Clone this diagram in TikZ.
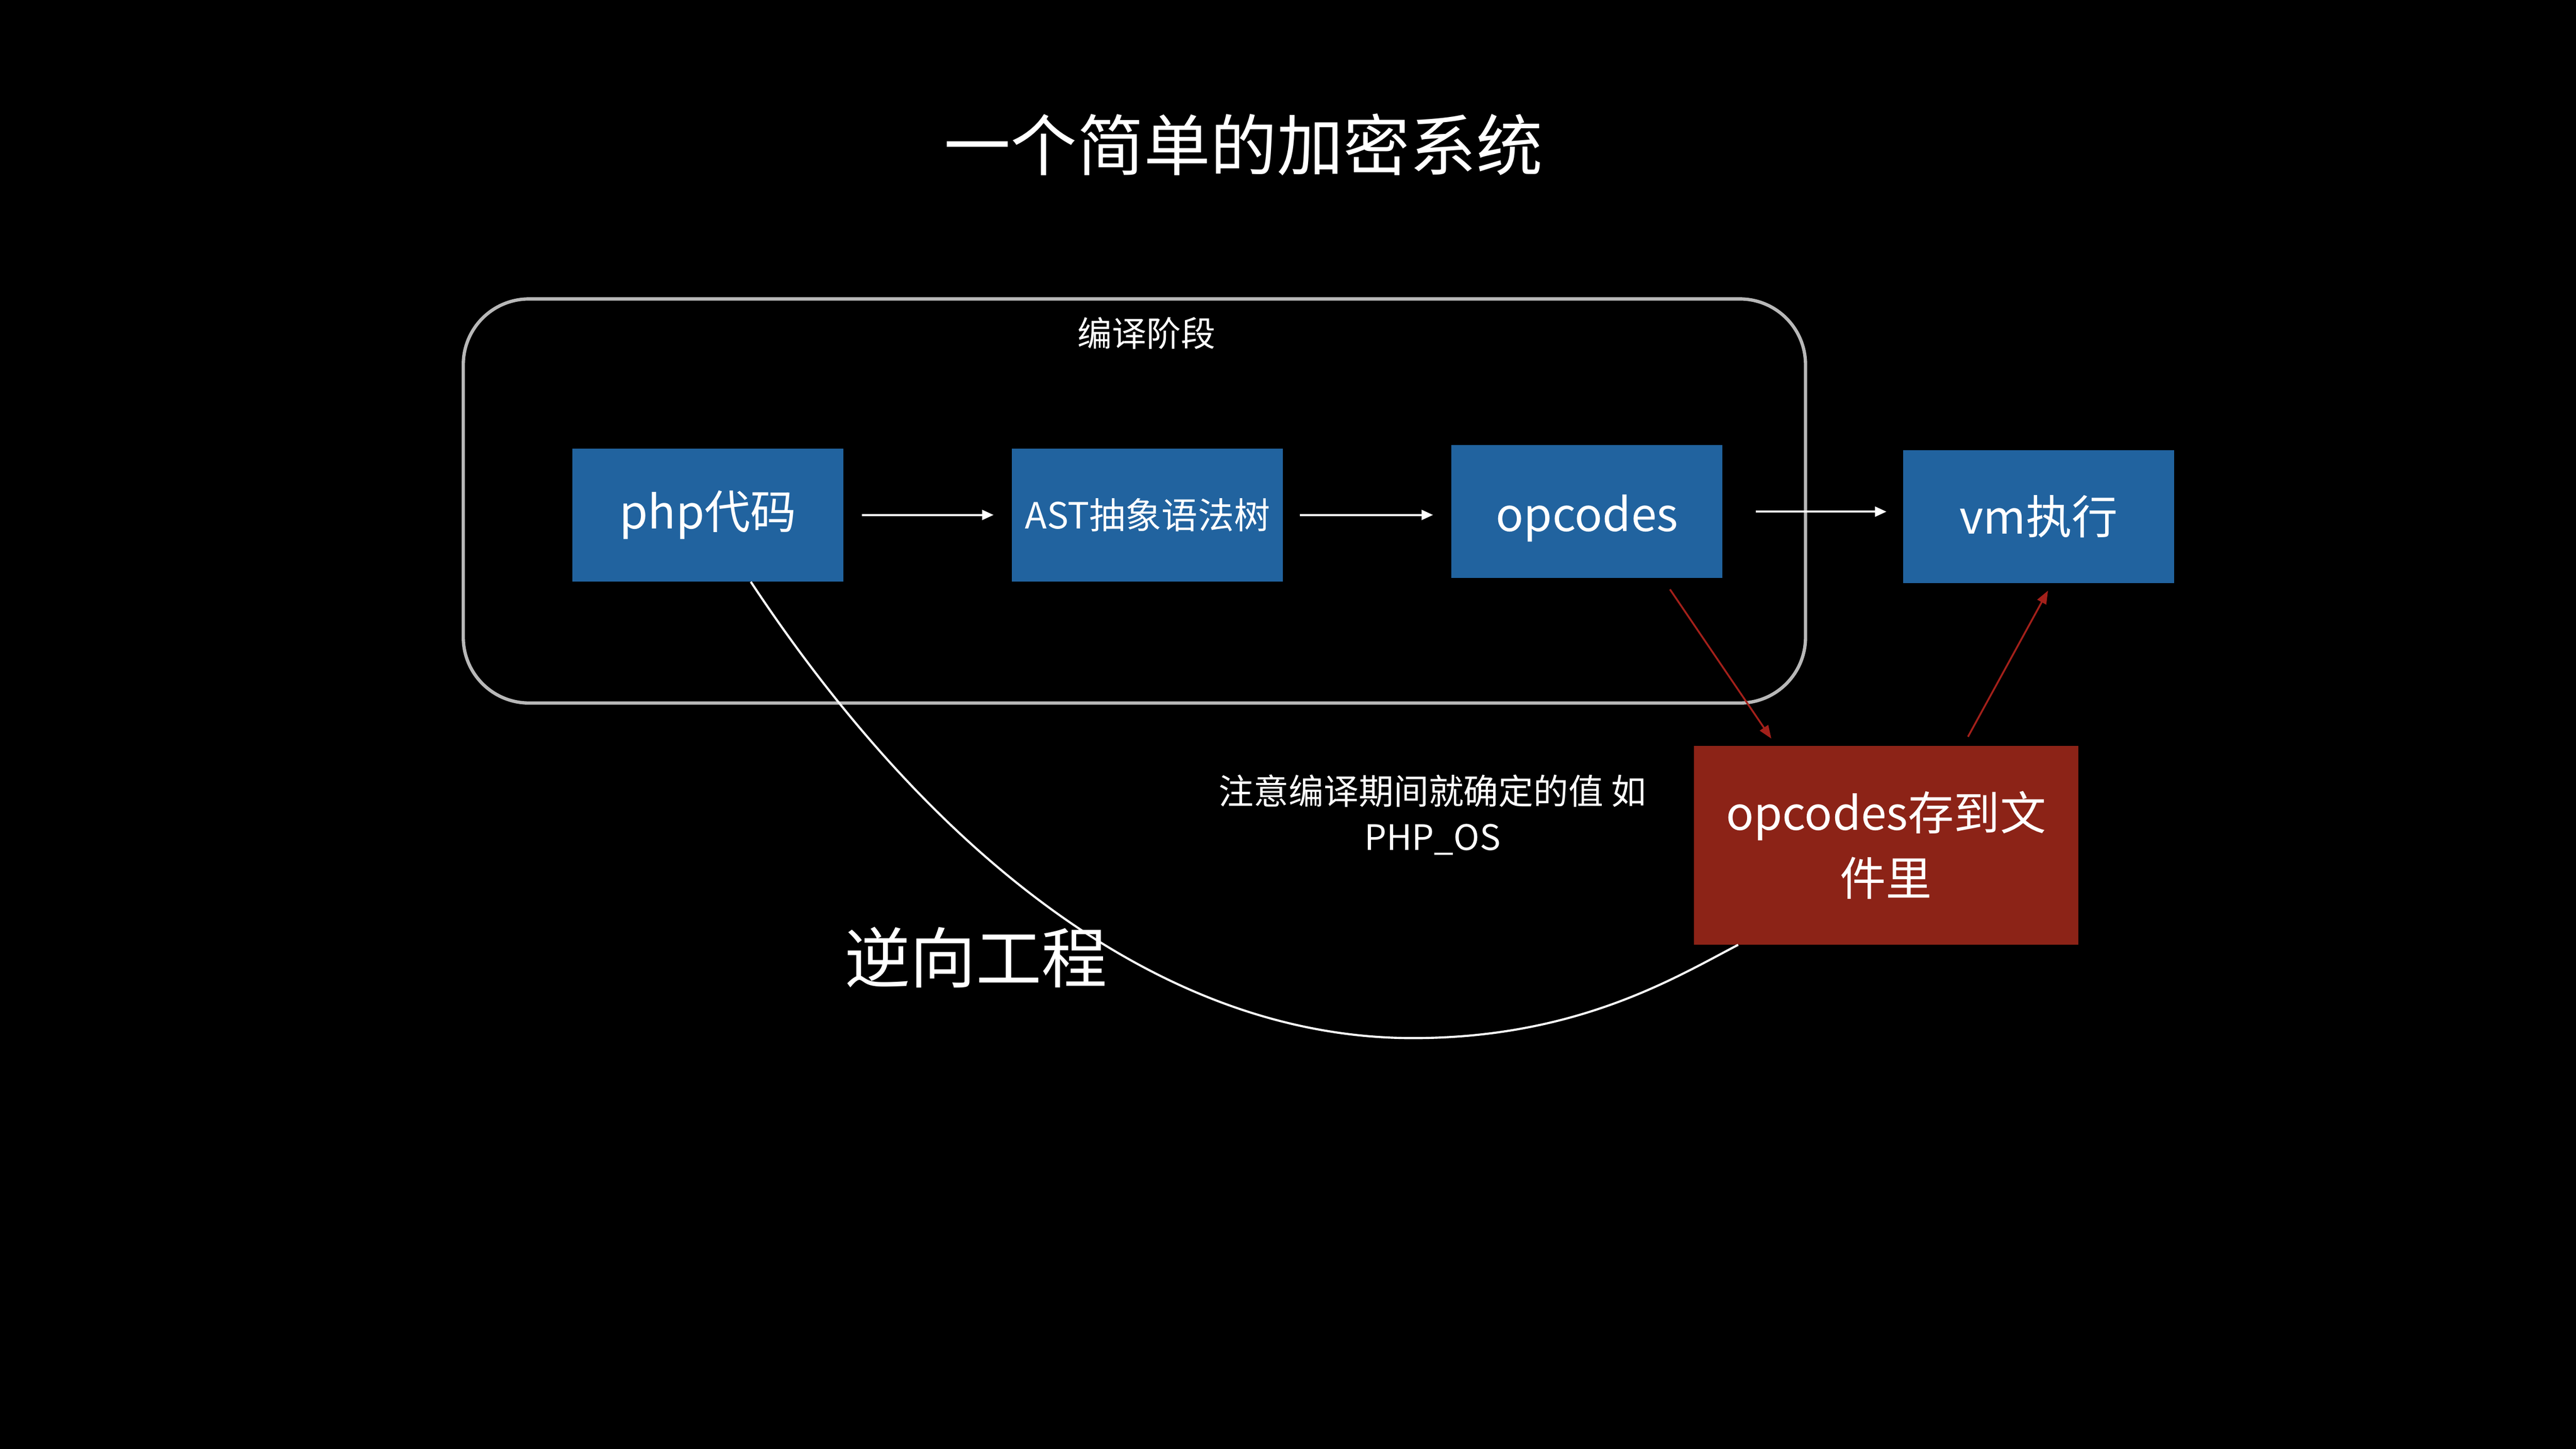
\documentclass[tikz,border=0pt]{standalone}
\usepackage{fontspec}
\setmainfont{Noto Sans CJK SC}
\usetikzlibrary{arrows.meta,calc}
\definecolor{boxblue}{HTML}{21639F}
\definecolor{boxred}{HTML}{8C2317}
\definecolor{arrred}{HTML}{A3201A}
\definecolor{framegray}{HTML}{B8B8B8}
\tikzset{
  bluebox/.style={fill=boxblue, minimum width=165pt, minimum height=81pt, inner sep=0pt, text=white, font=\fontsize{28}{34}\selectfont},
  redbox/.style={fill=boxred, minimum width=234pt, minimum height=121pt, inner sep=0pt, text=white, align=center, font=\fontsize{28}{40}\selectfont},
  warr/.style={draw=white, line width=1.3pt, -{Triangle[length=7pt,width=6pt]}},
  rarr/.style={draw=arrred, line width=1.1pt, -{Triangle[length=8pt,width=6pt]}},
  plain/.style={text=white, inner sep=0pt},
}
\begin{document}
\begin{tikzpicture}[x=1pt,y=-1pt]
\fill[black] (0,0) rectangle (1568,882);
\useasboundingbox (0,0) rectangle (1568,882);

% title
\node[plain, font=\fontsize{40.5}{48}\selectfont] (title) at (757,88) {一个简单的加密系统};

% compile-stage frame
\draw[framegray, line width=2pt, rounded corners=40pt] (282,182) rectangle (1099,428);
\node[plain, font=\fontsize{21}{26}\selectfont] (stage) at (698,203) {编译阶段};

% boxes
\node[bluebox] (php) at (431,313.5) {php代码};
\node[bluebox, font=\fontsize{22}{26}\selectfont] (ast) at (698.5,313.5) {AST抽象语法树};
\node[bluebox] (opc) at (966,311.5) {\raisebox{-4pt}[\height][\depth]{opcodes}};
\node[bluebox] (vm) at (1241,314.5) {vm执行};
\node[redbox] (file) at (1148,514.5) {opcodes存到文\\件里};

% white arrows
\draw[warr, shorten <=11pt, shorten >=11pt] (php.east) -- (php.east -| ast.west);
\draw[warr, shorten <=10pt, shorten >=11pt] (ast.east) -- (ast.east -| opc.west);
\draw[warr, shorten <=20pt, shorten >=10pt] (opc.east) -- (opc.east -| vm.west);

% red arrows
\draw[rarr, shorten <=8pt, shorten >=5pt] ([xshift=46pt]opc.south) -- ([xshift=-67pt]file.north);
\draw[rarr, shorten <=6pt, shorten >=5pt] ([xshift=47pt]file.north) -- ([xshift=8pt]vm.south);

% reverse-engineering curve
\coordinate (cstart) at ([xshift=26pt]php.south);
\coordinate (cend) at ([xshift=-90pt]file.south);
\coordinate (cmid) at (860,632);
\draw[white, line width=1.3pt] (cstart) .. controls (560,510) and (700,632) .. (cmid)
      .. controls (960,632) and (1020,595) .. (cend);

% labels
\node[plain, align=center, font=\fontsize{21.3}{28}\selectfont] (note) at (872,496) {注意编译期间就确定的值 如\\PHP\_OS};
\node[plain, font=\fontsize{40}{48}\selectfont] (rev) at (594,583) {逆向工程};
\end{tikzpicture}
\end{document}
